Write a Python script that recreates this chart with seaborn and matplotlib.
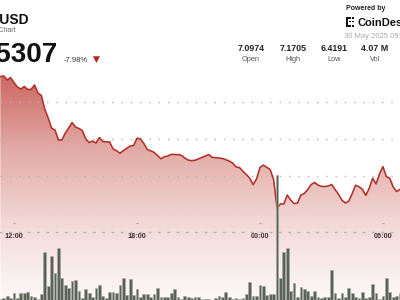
import numpy as np
import pandas as pd
import matplotlib
matplotlib.use("Agg")
import matplotlib.pyplot as plt
import matplotlib.dates as mdates
from matplotlib.patches import Polygon, Rectangle
import seaborn as sns

# ---------------- data ----------------
symbol = "UNI-USD"
subtitle = "UNI-USD Chart"
last_price = "6.5307"
change_pct = "-7.98%"
stat_values = ["7.0974", "7.1705", "6.4191", "4.07 M"]
stat_labels = ["Open", "High", "Low", "Vol"]
timestamp = "30 May 2025 09:30 UTC"

price = [7.137, 7.141, 7.119, 7.132, 7.105, 7.081, 7.070, 7.084, 7.068, 7.068,
         7.092, 7.049, 7.035, 6.962, 6.914, 6.859, 6.849, 6.795, 6.795, 6.832,
         6.859, 6.889, 6.865, 6.857, 6.846, 6.800, 6.781, 6.789, 6.778, 6.808,
         6.786, 6.785, 6.784, 6.746, 6.737, 6.723, 6.737, 6.750, 6.762, 6.765,
         6.804, 6.801, 6.776, 6.743, 6.736, 6.728, 6.711, 6.693, 6.704, 6.708,
         6.717, 6.716, 6.716, 6.712, 6.697, 6.686, 6.683, 6.685, 6.693, 6.700,
         6.708, 6.716, 6.701, 6.699, 6.697, 6.695, 6.688, 6.681, 6.670, 6.649,
         6.646, 6.626, 6.608, 6.589, 6.553, 6.584, 6.646, 6.659, 6.647, 6.635,
         6.581, 6.427, 6.449, 6.449, 6.497, 6.470, 6.451, 6.454, 6.497, 6.506,
         6.527, 6.554, 6.565, 6.551, 6.544, 6.543, 6.546, 6.554, 6.527, 6.501,
         6.469, 6.454, 6.464, 6.505, 6.550, 6.542, 6.528, 6.495, 6.534, 6.588,
         6.557, 6.611, 6.651, 6.597, 6.588, 6.541, 6.516, 6.528]

volume_k = [3, 8, 16, 9, 29, 8, 29, 29, 33, 16, 11, 4, 24, 193, 56, 176, 109, 209, 89, 60,
            47, 76, 80, 37, 8, 43, 27, 11, 47, 60, 16, 8, 33, 33, 27, 60, 89, 20, 83, 20,
            43, 13, 23, 23, 13, 24, 47, 13, 11, 11, 27, 43, 11, 3, 16, 13, 8, 11, 11,
            3, 3, 3, 1, 7, 16, 11, 33, 11, 4, 9, 3, 9, 24, 71, 16, 16, 60, 56, 20,
            24, 24, 500, 87, 191, 207, 37, 67, 11, 51, 44, 37, 16, 36, 11, 7, 11, 13, 120, 27,
            7, 29, 13, 47, 27, 13, 7, 33, 7, 11, 63, 29, 3, 16, 89, 33, 13, 16, 29]

times = pd.date_range("2025-05-29 11:20", periods=len(price), freq="10min")
tick_times = pd.to_datetime(["2025-05-29 12:00", "2025-05-29 18:00",
                             "2025-05-30 00:00", "2025-05-30 06:00"])
tick_labels = ["12:00", "18:00", "00:00", "06:00"]

df = pd.DataFrame({"t": mdates.date2num(times), "price": price, "volume": volume_k})

# ---------------- figure ----------------
W, H = 400, 300
sns.set_theme(style="white")
plt.rcParams["font.family"] = ["Liberation Sans", "DejaVu Sans"]
fig = plt.figure(figsize=(4, 3), dpi=100)
fig.patch.set_facecolor("white")

ax = fig.add_axes([0, 0, 1, 1])
ax.set_facecolor("white")
y_lo, y_hi = 5.9297, 7.5514
x_lo = df.t.iloc[0] - 1 / 1440
x_hi = df.t.iloc[-1]

# volume bars on twin axis
ax2 = ax.twinx()
ax2.bar(df.t, df.volume, width=0.8 / 144, color="#5a6257", edgecolor="#a4aaa0",
        linewidth=0.4, zorder=2)
ax2.set_ylim(0, 1200)
ax2.set_axis_off()

# gradient fill below the price line
poly_xy = list(zip(df.t, df.price)) + [(df.t.iloc[-1], y_lo), (df.t.iloc[0], y_lo)]
clip = Polygon(poly_xy, closed=True, facecolor="none", edgecolor="none")
ax.add_patch(clip)
ypix = np.arange(H) + 0.5
alpha = np.interp(ypix, [70, 85, 150, 230, 290, 300], [0.72, 0.70, 0.41, 0.17, 0.05, 0.03])
grad = np.zeros((H, 1, 4))
grad[:, 0, 0] = 185 / 255
grad[:, 0, 1] = 50 / 255
grad[:, 0, 2] = 40 / 255
grad[:, 0, 3] = alpha
im = ax.imshow(grad, extent=[x_lo, x_hi, y_lo, y_hi], origin="upper", aspect="auto", zorder=1)
im.set_clip_path(clip)

sns.lineplot(data=df, x="t", y="price", ax=ax, color="#b3302a", linewidth=1.15, zorder=4)

for v in [6.6, 6.8, 7.0]:
    ax.axhline(v, color="#b5b5b5", linewidth=1, linestyle=(0, (1, 5.7)), zorder=3)

ax.set_xlim(x_lo, x_hi)
ax.set_ylim(y_lo, y_hi)
ax.set_xlabel("")
ax.set_ylabel("")
ax.set_yticks([])
for s in ["top", "left", "right"]:
    ax.spines[s].set_visible(False)
ax.spines["bottom"].set_position(("axes", 1 - 232 / H))
ax.spines["bottom"].set_linestyle((0, (1, 5.7)))
ax.spines["bottom"].set_color("#b5b5b5")
ax.spines["bottom"].set_linewidth(1)
ax.set_xticks(mdates.date2num(tick_times))
ax.set_xticklabels(tick_labels)
ax.tick_params(axis="x", length=0, pad=1.0, labelsize=5.3, labelcolor="#333333")
for lab in ax.get_xticklabels():
    lab.set_fontweight("bold")
ax.plot(mdates.date2num(tick_times), [1 - 223 / H] * 4, transform=ax.get_xaxis_transform(),
        linestyle="none", marker="_", markersize=1.4, markeredgewidth=0.8, color="#a8a8a8",
        zorder=5, clip_on=False)


def px(x, y):
    return x / W, 1 - y / H


# ---------------- header texts ----------------
fig.text(*px(29, 24), symbol, ha="right", va="baseline", fontsize=10, fontweight="bold", color="#111111")
fig.text(*px(16, 32), subtitle, ha="right", va="baseline", fontsize=5, color="#666666")
fig.text(*px(57, 61.5), last_price, ha="right", va="baseline", fontsize=20, fontweight="bold", color="#111111")
fig.text(*px(64, 61.5), change_pct, ha="left", va="baseline", fontsize=5.4, color="#333333")
fig.text(*px(96.5, 62), "\u25BC", ha="center", va="baseline", fontsize=6.5, color="#c0231c",
         family=["DejaVu Sans"])

fig.text(*px(345.5, 10), "Powered by", ha="left", va="baseline", fontsize=5, fontweight="bold", color="#222222")
fig.text(*px(357, 26), "CoinDesk", ha="left", va="baseline", fontsize=8, fontweight="bold", color="#111111")
fig.text(*px(344, 38.5), timestamp, ha="left", va="baseline", fontsize=5.5, color="#aaaaaa")

centers = [251, 293, 334, 375]
for c, v, l in zip(centers, stat_values, stat_labels):
    fig.text(*px(c, 50.8), v, ha="center", va="baseline", fontsize=6.4, fontweight="bold", color="#222222")
    fig.text(*px(c, 61), l, ha="center", va="baseline", fontsize=5.3, color="#555555")

# logo mark
for (x, y, w, h) in [(346, 17, 1.6, 9.5), (346, 17, 4.5, 1.6), (346, 24.9, 4.5, 1.6),
                     (352, 17, 1.6, 1.6), (352, 20.5, 1.6, 1.6), (352, 24.9, 1.6, 1.6),
                     (349, 20.5, 1.6, 1.6)]:
    fig.patches.append(Rectangle((x / W, 1 - (y + h) / H), w / W, h / H,
                                 transform=fig.transFigure, facecolor="#111111",
                                 edgecolor="none"))

fig.savefig("out.png", dpi=100)
